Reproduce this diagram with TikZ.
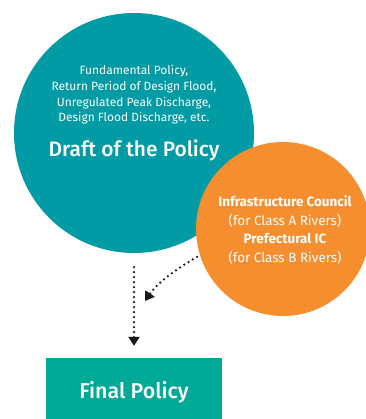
\documentclass[tikz,border=0pt]{standalone}
\usepackage{fontspec}
\setmainfont{Fira Sans}
\newfontfamily\medfont{Fira Sans Medium}
\usetikzlibrary{arrows.meta}
\definecolor{tealc}{RGB}{0,155,165}
\definecolor{orangec}{RGB}{244,142,46}
\definecolor{greenc}{RGB}{0,168,150}
\tikzset{
  bubble/.style={circle, inner sep=0pt},
  whitetext/.style={text=white, align=center, inner sep=0pt},
  dotarrow/.style={draw=black!90, line width=2.5bp, line cap=round, dash pattern=on 0pt off 5bp, -{Triangle[length=9bp,width=11bp,line cap=butt]}},
}
\begin{document}
\begin{tikzpicture}[x=1bp,y=-1bp]
\clip (0,0) rectangle (366,419);
\fill[white] (0,0) rectangle (366,419);
\node[bubble, fill=tealc, minimum size=240bp] (draft) at (134,133) {};
\node[bubble, fill=orangec, minimum size=174bp] (council) at (283,229) {};
\node[fill=greenc, minimum width=176bp, minimum height=70bp, inner sep=0pt] (final) at (134,393) {};
\node[whitetext, font=\fontsize{12}{15.7}\selectfont] (details) at (134,95)
  {Fundamental Policy,\\Return Period of Design Flood,\\Unregulated Peak Discharge,\\Design Flood Discharge, etc.};
\node[whitetext, font=\fontsize{21}{24}\selectfont\medfont] (title) at (134,150) {Draft of the Policy};
\node[whitetext, font=\fontsize{13.5}{18.8}\selectfont] (ctext) at (285,230)
  {\textbf{Infrastructure Council}\\(for Class A Rivers)\\\textbf{Prefectural IC}\\(for Class B Rivers)};
\node[whitetext, font=\fontsize{21.5}{24}\selectfont\medfont] (ftext) at (134,392) {Final Policy};
\coordinate (ctip) at (145,301);
\draw[dotarrow] ([yshift=-14bp]draft.south) -- ([yshift=12bp]final.north);
\draw[dotarrow] ([xshift=-4bp,yshift=2bp]council.200) .. controls (178,268) and (158,282) .. (ctip);
\end{tikzpicture}
\end{document}
